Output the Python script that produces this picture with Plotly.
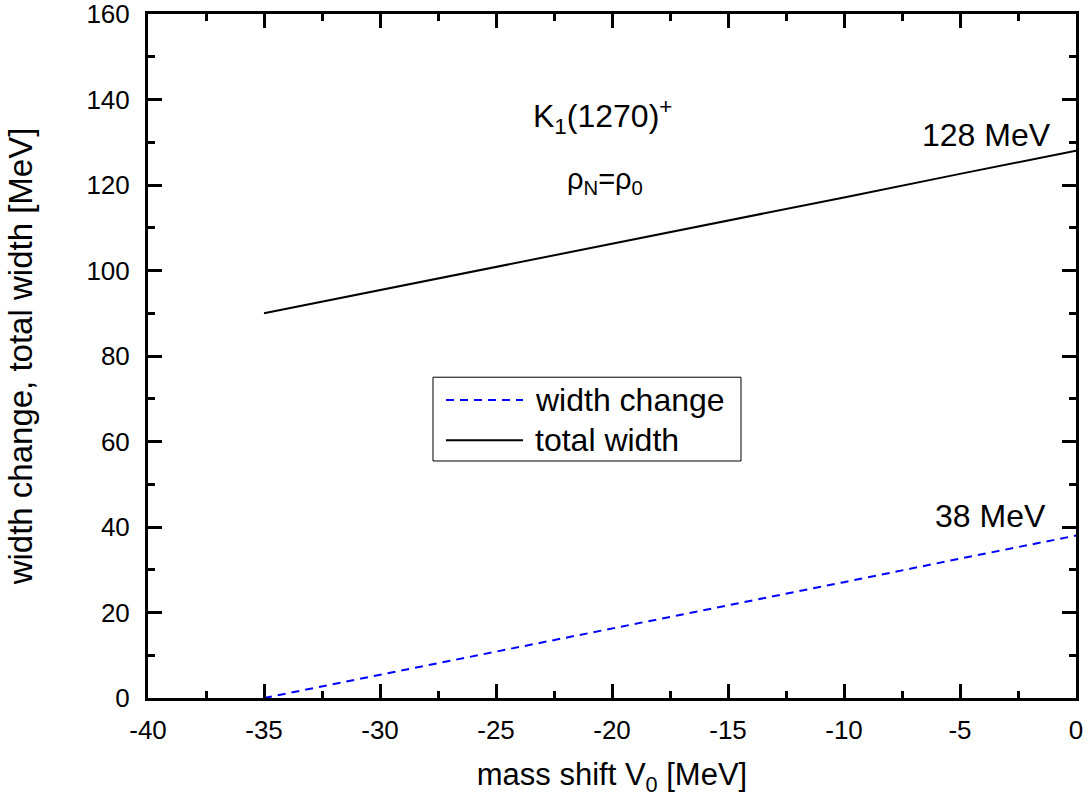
import plotly.graph_objects as go

mass_shift = [-35, -30, -25, -20, -15, -10, -5, 0]
width_change = [0.0, 5.4, 10.9, 16.3, 21.7, 27.1, 32.6, 38.0]
total_width = [90.0, 95.4, 100.9, 106.3, 111.7, 117.1, 122.6, 128.0]

x_tickvals = [-40, -35, -30, -25, -20, -15, -10, -5, 0]
x_ticktext = ["-40", "-35", "-30", "-25", "-20", "-15", "-10", "-5", "0"]
y_tickvals = [0, 20, 40, 60, 80, 100, 120, 140, 160]
y_ticktext = ["0", "20", "40", "60", "80", "100", "120", "140", "160"]

font = "Liberation Sans, Arial, sans-serif"

fig = go.Figure()
fig.add_trace(go.Scatter(x=mass_shift, y=width_change, mode="lines", name="width change",
                         line=dict(color="#0000ff", width=2, dash="8px,6px"), showlegend=False))
fig.add_trace(go.Scatter(x=mass_shift, y=total_width, mode="lines", name="total width",
                         line=dict(color="black", width=2), showlegend=False))

axis_common = dict(showline=True, linecolor="black", linewidth=3, mirror="ticks",
                   ticks="inside", ticklen=14, tickwidth=2.5, tickcolor="black",
                   showgrid=False, zeroline=False, automargin=False,
                   ticklabeloverflow="allow",
                   tickfont=dict(family=font, size=26, color="black"))

fig.update_xaxes(range=[-40, 0], tickmode="array", tickvals=x_tickvals, ticktext=x_ticktext,
                 minor=dict(dtick=2.5, tick0=0, ticks="inside", ticklen=7, tickwidth=2.5, tickcolor="black"),
                 ticklabelstandoff=7,
                 title=dict(text="mass shift V<sub>0</sub> [MeV]", font=dict(family=font, size=31, color="black"), standoff=20),
                 **axis_common)
fig.update_yaxes(range=[0, 160], tickmode="array", tickvals=y_tickvals, ticktext=y_ticktext,
                 minor=dict(dtick=10, tick0=0, ticks="inside", ticklen=7, tickwidth=2.5, tickcolor="black"),
                 ticklabelstandoff=10,
                 title=dict(text="width change, total width [MeV]", font=dict(family=font, size=33, color="black"), standoff=44),
                 **axis_common)

fig.add_annotation(x=-20.4, y=136.0, xref="x", yref="y", text="K<sub>1</sub>(1270)<sup>+</sup>",
                   showarrow=False, font=dict(family=font, size=32, color="black"))
fig.add_annotation(x=-20.3, y=121.0, xref="x", yref="y", text="ρ<sub>N</sub>=ρ<sub>0</sub>",
                   showarrow=False, font=dict(family=font, size=29, color="black"))
fig.add_annotation(x=-1.0, y=131.7, xref="x", yref="y", text="128 MeV", xanchor="right",
                   showarrow=False, font=dict(family=font, size=32, color="black"))
fig.add_annotation(x=-1.2, y=42.6, xref="x", yref="y", text="38 MeV", xanchor="right",
                   showarrow=False, font=dict(family=font, size=32, color="black"))

# manual legend (box, line samples, labels)
fig.add_shape(type="rect", xref="paper", yref="paper", x0=0.3071, x1=0.639, y0=0.3465, y1=0.469,
              line=dict(color="black", width=1), fillcolor="white", layer="below")
fig.add_shape(type="line", xref="paper", yref="paper", x0=0.3211, x1=0.4041, y0=0.4357, y1=0.4357,
              line=dict(color="#0000ff", width=2, dash="8px,6px"))
fig.add_shape(type="line", xref="paper", yref="paper", x0=0.3211, x1=0.4041, y0=0.377, y1=0.377,
              line=dict(color="black", width=2))
fig.add_annotation(x=0.4149, y=0.4357, xref="paper", yref="paper", text="width change",
                   xanchor="left", yanchor="middle", showarrow=False,
                   font=dict(family=font, size=32, color="black"))
fig.add_annotation(x=0.4149, y=0.377, xref="paper", yref="paper", text="total width",
                   xanchor="left", yanchor="middle", showarrow=False,
                   font=dict(family=font, size=32, color="black"))

fig.update_layout(
    width=1088, height=804,
    margin=dict(l=148, r=12, t=14, b=106),
    paper_bgcolor="white", plot_bgcolor="white",
    showlegend=False,
)

fig.write_html("out.html")
